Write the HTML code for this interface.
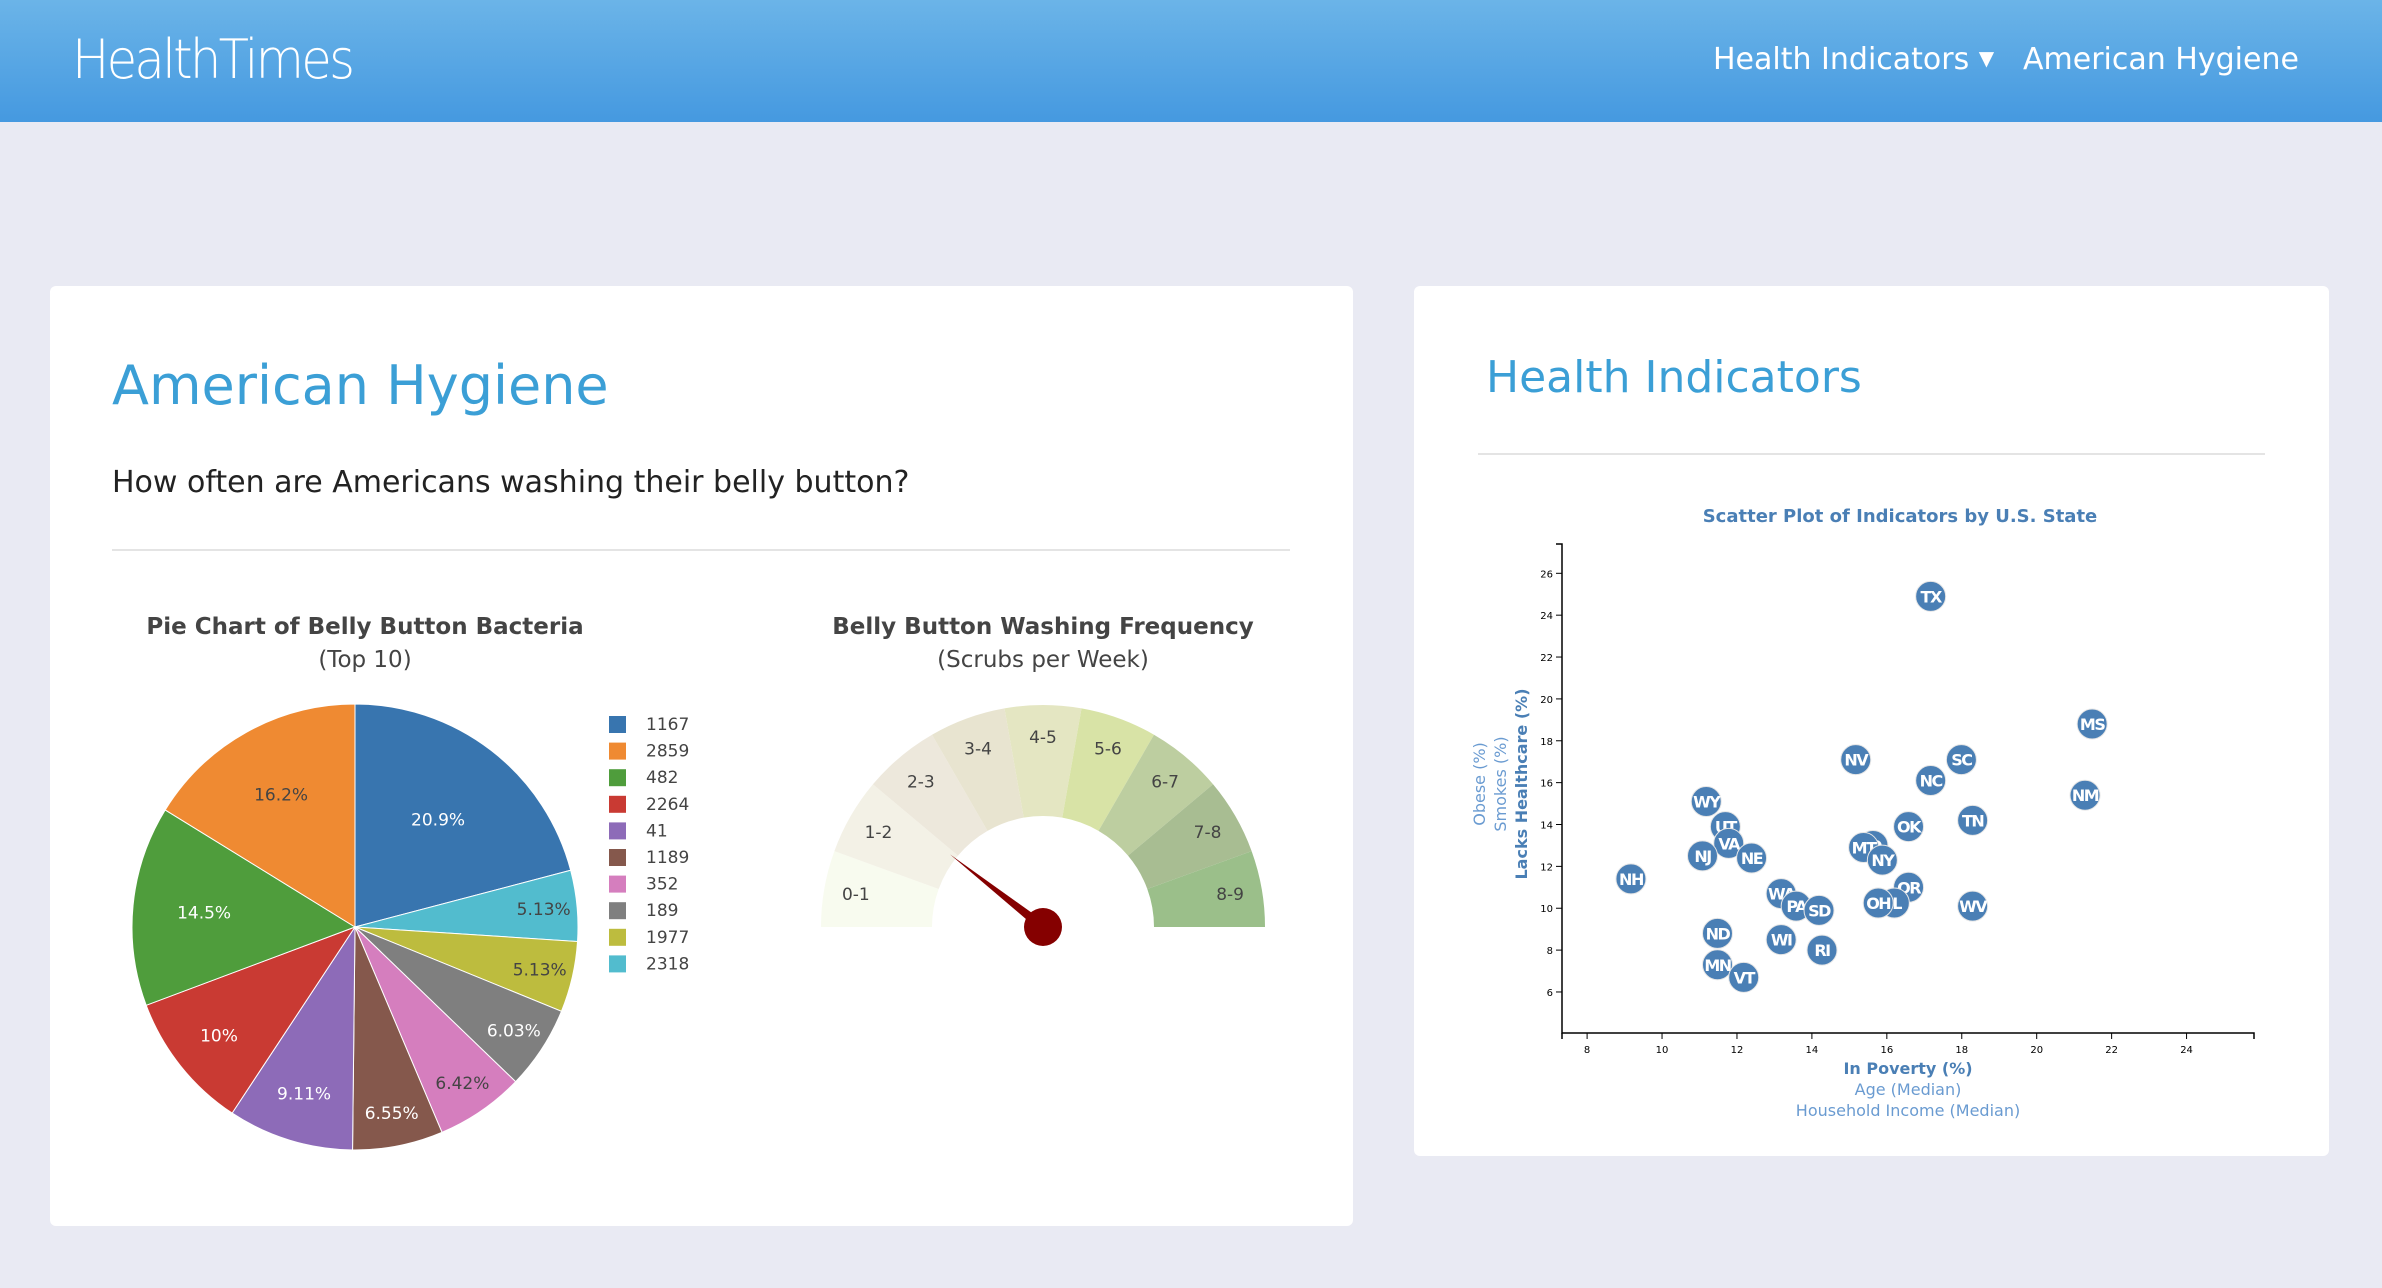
<!DOCTYPE html>
<html><head><meta charset="utf-8">
<style>
html,body{margin:0;padding:0}
body{width:2382px;height:1288px;background:#e9eaf3;position:relative;overflow:hidden;font-family:"DejaVu Sans","Liberation Sans",sans-serif}
.nav{position:absolute;left:0;top:0;width:2382px;height:122px;background:linear-gradient(#6bb4e8,#4599e0)}
.brand{position:absolute;left:72px;top:28px;font-family:"DejaVu Sans",sans-serif;font-weight:200;font-size:54px;color:#fff;letter-spacing:-3px;transform:scaleX(0.92);transform-origin:left}
.navlink{position:absolute;top:42px;font-size:30px;color:#fff}
.card{position:absolute;background:#fff;border-radius:6px}
.ctitle{position:absolute;color:#3b9fd6;white-space:nowrap}
.hr{position:absolute;height:2px;background:#e4e4e4}
svg text{font-family:"DejaVu Sans","Liberation Sans",sans-serif}
</style></head><body>
<div class="nav">
  <div class="brand">HealthTimes</div>
  <div class="navlink" style="left:1713px">Health Indicators <span style="font-size:20px;position:relative;top:-4px">▼</span></div>
  <div class="navlink" style="left:2023px">American Hygiene</div>
</div>
<div class="card" style="left:50px;top:286px;width:1303px;height:940px"></div>
<div class="card" style="left:1414px;top:286px;width:915px;height:870px"></div>
<div class="ctitle" style="left:112px;top:354px;font-size:54px">American Hygiene</div>
<div class="ctitle" style="left:112px;top:465px;font-size:30px;color:#222">How often are Americans washing their belly button?</div>
<div class="hr" style="left:112px;top:549px;width:1178px"></div>
<div class="ctitle" style="left:1486px;top:352px;font-size:44px">Health Indicators</div>
<div class="hr" style="left:1478px;top:453px;width:787px"></div>

<svg id="chart" width="2382" height="1288" style="position:absolute;left:0;top:0"></svg>
<script>
// ---- Pie data ----
const pieLabels=["1167","2859","482","2264","41","1189","352","189","1977","2318"];
const pieValues=[20.9,16.2,14.5,10,9.11,6.55,6.42,6.03,5.13,5.13];
const pieColors=["#3875af","#ef8a32","#4f9d3c","#c93a33","#8d6bb8","#85584c","#d57ebe","#7f7f7f","#bdbc3e","#52bcce"];
// ---- Gauge data ----
const gaugeLabels=["0-1","1-2","2-3","3-4","4-5","5-6","6-7","7-8","8-9"];
const gaugeColors=["#f8fbef","#f3f1e6","#ede8dc","#e8e4d0","#e4e6c2","#d8e3a6","#bdcea0","#a8bd92","#9bbf8a"];
const washFreq=1.9;
// ---- Scatter data ----
const states=["TX","MS","NV","SC","NC","NM","WY","TN","OK","UT","VA","ID","MT","NY","NJ","NE","NH","OR","WA","PA","SD","IL","OH","WV","ND","WI","RI","MN","VT"];
const poverty=[17.17,21.48,15.17,17.99,17.17,21.29,11.18,18.29,16.58,11.69,11.78,15.63,15.38,15.88,11.08,12.39,9.17,16.58,13.18,13.58,14.19,16.2,15.77,18.29,11.48,13.18,14.27,11.48,12.18];
const healthcare=[24.9,18.8,17.1,17.1,16.1,15.4,15.1,14.2,13.9,13.9,13.1,13.0,12.9,12.3,12.5,12.4,11.4,11.0,10.7,10.1,9.9,10.25,10.25,10.1,8.8,8.5,8.0,7.3,6.7];
const xTicks=[8,10,12,14,16,18,20,22,24];
const yTicks=[6,8,10,12,14,16,18,20,22,24,26];

const svg=document.getElementById('chart');
const NS='http://www.w3.org/2000/svg';
function mk(tag,attrs,parent){const e=document.createElementNS(NS,tag);for(const k in attrs)e.setAttribute(k,attrs[k]);(parent||svg).appendChild(e);return e;}
function txt(s,attrs,parent){const e=mk('text',attrs,parent);e.textContent=s;return e;}

// ===== PIE =====
const pcx=355,pcy=927,pr=223;
let t1=txt("Pie Chart of Belly Button Bacteria",{x:365,y:634,'text-anchor':'middle','font-size':23,'font-weight':'bold',fill:'#444'});

let t2=txt("(Top 10)",{x:365,y:667,'text-anchor':'middle','font-size':23,fill:'#444'});

const total=pieValues.reduce((a,b)=>a+b,0);
const order=[0];for(let i=pieValues.length-1;i>=1;i--)order.push(i);
let acc=0;
const darkText=new Set(["#ef8a32","#52bcce","#bdbc3e","#d57ebe"]);
order.forEach(i=>{
  const f=pieValues[i]/total;
  const a0=acc*2*Math.PI, a1=(acc+f)*2*Math.PI; acc+=f;
  const x0=pcx+pr*Math.sin(a0),y0=pcy-pr*Math.cos(a0),x1=pcx+pr*Math.sin(a1),y1=pcy-pr*Math.cos(a1);
  const large=(a1-a0)>Math.PI?1:0;
  const p=mk('path',{d:`M${pcx},${pcy}L${x0},${y0}A${pr},${pr} 0 ${large} 1 ${x1},${y1}Z`,fill:pieColors[i],stroke:'#fff','stroke-width':1});
  
  
  const am=(a0+a1)/2;
  const fr=f>0.2?0.61:f>0.14?0.68:f>0.09?0.78:0.85;
  const lbl=(Math.round(pieValues[i]*100)/100)+'%';
  const lt=txt(lbl,{x:pcx+pr*fr*Math.sin(am),y:pcy-pr*fr*Math.cos(am)+6,'text-anchor':'middle','font-size':17,fill:darkText.has(pieColors[i])?'#444':'#fff'});
  
  
});
pieLabels.forEach((l,i)=>{
  const y=724+i*26.6;
  const r=mk('rect',{x:609,y:y-8,width:17,height:17,fill:pieColors[i]});
  
  
  const t=txt(l,{x:646,y:y+6,'font-size':17,fill:'#444'});
  
  
});

// ===== GAUGE =====
const gcx=1043,gcy=927,ro=222,ri=111;
let g1=txt("Belly Button Washing Frequency",{x:1043,y:634,'text-anchor':'middle','font-size':23,'font-weight':'bold',fill:'#444'});

let g2=txt("(Scrubs per Week)",{x:1043,y:667,'text-anchor':'middle','font-size':23,fill:'#444'});

const nSeg=gaugeLabels.length;
function gpt(v,r){const a=Math.PI-(v/nSeg)*Math.PI;return [gcx+r*Math.cos(a),gcy-r*Math.sin(a)];}
gaugeLabels.forEach((l,i)=>{
  const [ax,ay]=gpt(i,ro),[bx,by]=gpt(i+1,ro),[cx,cy]=gpt(i+1,ri),[dx,dy]=gpt(i,ri);
  const p=mk('path',{d:`M${ax},${ay}A${ro},${ro} 0 0 1 ${bx},${by}L${cx},${cy}A${ri},${ri} 0 0 0 ${dx},${dy}Z`,fill:gaugeColors[i]});
  
  
  const [tx,ty]=gpt(i+0.5,190);
  const t=txt(l,{x:tx,y:ty+6,'text-anchor':'middle','font-size':17,fill:'#444'});
  
  
});
{
  const [nx,ny]=gpt(washFreq,118);
  const a=Math.PI-(washFreq/nSeg)*Math.PI;
  const px=-Math.sin(a)*5,py=-Math.cos(a)*5;
  const n=mk('path',{d:`M${nx},${ny}L${gcx+px},${gcy+py}L${gcx-px},${gcy-py}Z`,fill:'#850000'});
  
  
  const h=mk('circle',{cx:gcx,cy:gcy,r:19,fill:'#850000'});
  
  
}

// ===== SCATTER =====
const X0=1562,X1=2254,Y0=1033,Y1=544;
const xmin=7.33,xmax=25.8,ymin=4.04,ymax=27.4;
const sx=v=>X0+(v-xmin)/(xmax-xmin)*(X1-X0);
const sy=v=>Y0-(v-ymin)/(ymax-ymin)*(Y0-Y1);
const blue='#4a7fb5';
let st=txt("Scatter Plot of Indicators by U.S. State",{x:1900,y:522,'text-anchor':'middle','font-family':'Liberation Sans','font-size':18,'font-weight':'bold',fill:blue});

const ax=mk('path',{d:`M${X0-6},${Y1}H${X0}V${Y0}H${X1}V${Y0+6}`,fill:'none',stroke:'#000','stroke-width':1.5});

mk('path',{d:`M${X0},${Y0}V${Y0+6}`,stroke:'#000','stroke-width':1.5});
xTicks.forEach(v=>{
  mk('line',{x1:sx(v),x2:sx(v),y1:Y0,y2:Y0+6,stroke:'#000'});
  const t=txt(String(v),{x:sx(v),y:Y0+20,'text-anchor':'middle','font-size':10,fill:'#000','font-family':'Liberation Sans'});
  
});
yTicks.forEach(v=>{
  mk('line',{x1:X0-6,x2:X0,y1:sy(v),y2:sy(v),stroke:'#000'});
  const t=txt(String(v),{x:X0-9,y:sy(v)+4,'text-anchor':'end','font-size':10,fill:'#000','font-family':'Liberation Sans'});
  
});
states.forEach((s,i)=>{
  const c=mk('circle',{cx:sx(poverty[i]),cy:sy(healthcare[i]),r:15,fill:blue,stroke:'#e6e6e6','stroke-width':1});
  
  
  const t=txt(s,{x:sx(poverty[i]),y:sy(healthcare[i])+6,'text-anchor':'middle','font-size':16,'font-weight':'bold',fill:'#fff','font-family':'Liberation Sans','letter-spacing':-1.5});
  
  
});
[["In Poverty (%)",1074,true,"x-axis-title-poverty"],["Age (Median)",1095,false,"x-axis-title-age"],["Household Income (Median)",1116,false,"x-axis-title-income"]].forEach(a=>{
  const t=txt(a[0],{x:1908,y:a[1],'text-anchor':'middle','font-size':16,'font-weight':a[2]?'bold':'normal',fill:a[2]?blue:'#6a9bd1','font-family':'Liberation Sans'});
  
  
});
[["Lacks Healthcare (%)",1527,true,"y-axis-title-healthcare"],["Smokes (%)",1506,false,"y-axis-title-smokes"],["Obese (%)",1485,false,"y-axis-title-obese"]].forEach(a=>{
  const t=txt(a[0],{x:0,y:0,transform:`translate(${a[1]},784) rotate(-90)`,'text-anchor':'middle','font-size':16,'font-weight':a[2]?'bold':'normal',fill:a[2]?blue:'#6a9bd1','font-family':'Liberation Sans'});
  
  
});
</script>
</body></html>
